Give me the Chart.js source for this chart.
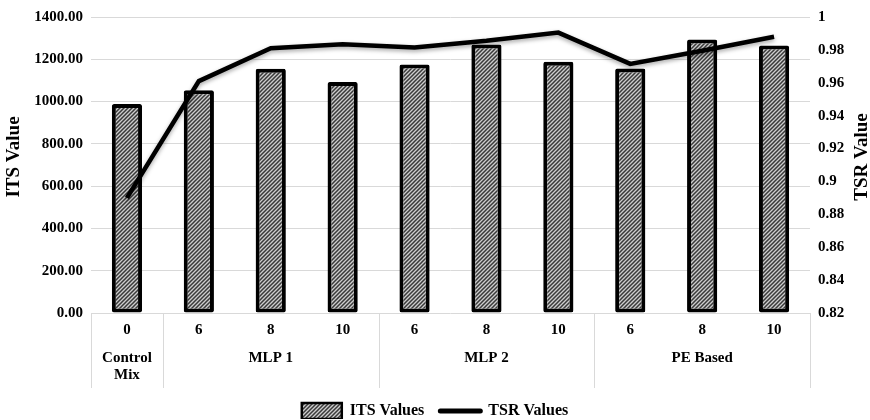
<!DOCTYPE html>
<html>
<head>
<meta charset="utf-8">
<script src="https://cdn.jsdelivr.net/npm/chart.js@4.4.0/dist/chart.umd.min.js"></script>
<style>
  html, body { margin: 0; background: #fff; }
  #wrap { width: 870px; height: 420px; }
</style>
</head>
<body>
<div id="wrap"><canvas id="chart"></canvas></div>
<script>
// Data
const subLabels = ['0', '6', '8', '10', '6', '8', '10', '6', '8', '10'];
const groupLabels = [['Control', 'Mix'], '', 'MLP 1', '', '', 'MLP 2', '', '', 'PE Based', ''];
const groupEdges = [0, 1, 4, 7, 10]; // category index where each group starts (plus the end)
const itsValues = [988, 1053, 1155, 1092, 1175, 1270, 1188, 1157, 1293, 1265];
const tsrValues = [0.89, 0.961, 0.981, 0.9835, 0.9815, 0.9855, 0.9905, 0.9715, 0.9795, 0.988];

const FONT = 'Liberation Serif, Times New Roman, serif';
const GRID = '#d9d9d9';

const ctx = document.getElementById('chart').getContext('2d');

// diagonal hatch like the Excel pattern fill
function makeHatch() {
  const s = 4;
  const c = document.createElement('canvas');
  c.width = s; c.height = s;
  const g = c.getContext('2d');
  g.fillStyle = '#cdcdcd';
  g.fillRect(0, 0, s, s);
  g.strokeStyle = '#3a3a3a';
  g.lineWidth = 1.5;
  g.beginPath();
  g.moveTo(-1, s + 1); g.lineTo(s + 1, -1);
  g.moveTo(-1, 1); g.lineTo(1, -1);
  g.moveTo(s - 1, s + 1); g.lineTo(s + 1, s - 1);
  g.stroke();
  return ctx.createPattern(c, 'repeat');
}
const hatch = makeHatch();

function axisTitle(c, text, x, y) {
  c.save();
  c.translate(x, y);
  c.rotate(-Math.PI / 2);
  c.fillStyle = '#000';
  c.font = 'bold 19px ' + FONT;
  c.textAlign = 'center';
  c.textBaseline = 'middle';
  c.fillText(text, 0, 0);
  c.restore();
}

// line shadow, group separators under the x axis, axis titles reading upwards
const extras = {
  id: 'extras',
  beforeDatasetDraw(chart, args) {
    if (args.index === 1) {
      const c = chart.ctx;
      c.save();
      c.shadowColor = 'rgba(0,0,0,0.35)';
      c.shadowBlur = 4;
      c.shadowOffsetY = 2;
    }
  },
  afterDatasetDraw(chart, args) {
    if (args.index === 1) chart.ctx.restore();
  },
  afterLayout(chart) {
    const lg = chart.legend;
    const shift = 411 - (lg.top + lg.options.labels.padding + 8);
    lg.top += shift;
    lg.bottom += shift;
  },
  afterDraw(chart) {
    const c = chart.ctx;
    const x = chart.scales.x;
    const bottom = chart.scales.x2.bottom;
    const step = (x.right - x.left) / subLabels.length;
    c.save();
    c.strokeStyle = GRID;
    c.lineWidth = 1;
    groupEdges.forEach(e => {
      const px = Math.round(x.left + e * step) + 0.5;
      c.beginPath();
      c.moveTo(px, chart.chartArea.bottom);
      c.lineTo(px, bottom);
      c.stroke();
    });
    c.restore();
    const midY = (chart.chartArea.top + chart.chartArea.bottom) / 2 - 8;
    axisTitle(c, 'ITS Value', 14, midY);
    axisTitle(c, 'TSR Value', chart.width - 8, midY);
  }
};

new Chart(ctx, {
  type: 'bar',
  data: {
    labels: subLabels,
    datasets: [{
      label: 'ITS Values',
      data: itsValues,
      backgroundColor: hatch,
      borderColor: '#000',
      borderWidth: 4,
      borderRadius: 2,
      borderSkipped: false,
      barPercentage: 0.42,
      categoryPercentage: 1,
      yAxisID: 'y',
      order: 1
    }, {
      type: 'line',
      label: 'TSR Values',
      data: tsrValues,
      borderColor: '#000',
      backgroundColor: '#000',
      borderWidth: 4.5,
      pointRadius: 0,
      tension: 0,
      yAxisID: 'y1',
      order: 0
    }]
  },
  options: {
    responsive: true,
    maintainAspectRatio: false,
    animation: false,
    layout: { padding: { top: 16, left: 0, right: 0, bottom: 0 } },
    plugins: {
      tooltip: { enabled: false },
      legend: {
        position: 'bottom',
        maxHeight: 32,
        labels: {
          usePointStyle: true,
          pointStyleWidth: 40,
          padding: 16,
          color: '#000',
          font: { family: FONT, size: 16, weight: 'bold' },
          generateLabels: () => [
            { text: 'ITS Values', fillStyle: hatch, strokeStyle: '#000', lineWidth: 2.5, pointStyle: 'rect', datasetIndex: 0 },
            { text: 'TSR Values', fillStyle: '#000', strokeStyle: '#000', lineWidth: 5, lineCap: 'round', pointStyle: 'line', datasetIndex: 1 }
          ]
        }
      }
    },
    scales: {
      x: {
        position: 'bottom',
        grid: { display: false, drawTicks: false },
        border: { display: false },
        ticks: {
          color: '#000', padding: 8, autoSkip: false, maxRotation: 0,
          font: { family: FONT, size: 15, weight: 'bold' }
        },
        afterFit: s => { s.height = 30; }
      },
      x2: {
        type: 'category',
        position: 'bottom',
        labels: groupLabels,
        offset: true,
        grid: { display: false, drawTicks: false },
        border: { display: false },
        ticks: {
          color: '#000', padding: 6, autoSkip: false, maxRotation: 0,
          font: { family: FONT, size: 15, weight: 'bold', lineHeight: 1.15 }
        },
        afterFit: s => { s.height = 45; }
      },
      y: {
        position: 'left',
        min: 0,
        max: 1400,
        ticks: {
          stepSize: 200,
          padding: 8,
          color: '#000',
          font: { family: FONT, size: 15, weight: 'bold' },
          callback: v => v.toFixed(2)
        },
        grid: { color: GRID, drawTicks: false },
        border: { display: false },
        afterFit: s => { s.width = 91; }
      },
      y1: {
        position: 'right',
        min: 0.82,
        max: 1,
        ticks: {
          stepSize: 0.02,
          padding: 8,
          color: '#000',
          font: { family: FONT, size: 15, weight: 'bold' },
          callback: v => String(parseFloat(v.toFixed(2)))
        },
        grid: { display: false, drawTicks: false },
        border: { display: false },
        afterFit: s => { s.width = 60; }
      }
    }
  },
  plugins: [extras]
});
</script>
</body>
</html>
